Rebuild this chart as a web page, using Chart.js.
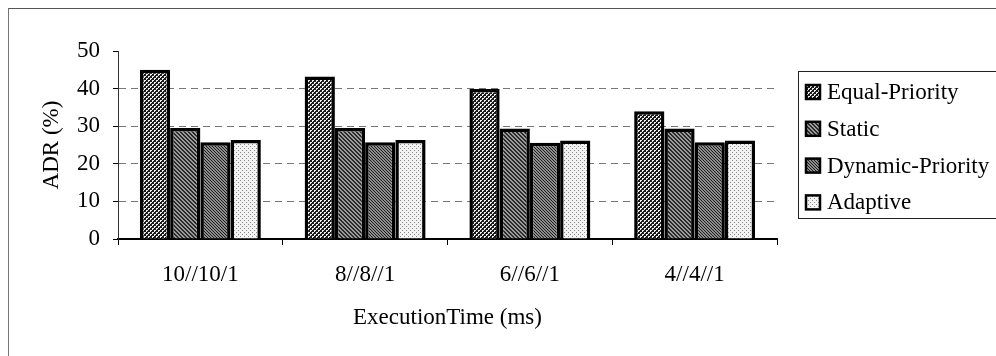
<!DOCTYPE html>
<html>
<head>
<meta charset="utf-8">
<script src="https://cdn.jsdelivr.net/npm/chart.js@4"></script>
<style>
  body { margin: 0; background: #fff; }
  #wrap { position: relative; width: 996px; height: 356px; }
  #frame { position: absolute; left: 8px; top: 8px; right: 0; bottom: 0; border-left: 1px solid #777; border-top: 1px solid #555; pointer-events: none; }
</style>
</head>
<body>
<div id="wrap">
  <canvas id="chart" width="996" height="356"></canvas>
  <div id="frame"></div>
</div>
<script>
const categories = ["10//10/1", "8//8//1", "6//6//1", "4//4//1"];
const seriesNames = ["Equal-Priority", "Static", "Dynamic-Priority", "Adaptive"];
const equalPriority = [45, 43.2, 39.9, 34];
const staticVals = [29.5, 29.5, 29.4, 29.4];
const dynamicPriority = [25.7, 25.7, 25.6, 25.7];
const adaptive = [26.3, 26.3, 26.2, 26.2];
const yTicks = [0, 10, 20, 30, 40, 50];

const serif = "'Liberation Serif', 'DejaVu Serif', serif";

// petits motifs façon hachures Excel
function makePattern(size, bg, fg, pixels) {
  const c = document.createElement("canvas");
  c.width = size;
  c.height = size;
  const g = c.getContext("2d");
  g.fillStyle = bg;
  g.fillRect(0, 0, size, size);
  g.fillStyle = fg;
  pixels.forEach(([x, y]) => g.fillRect(x, y, 1, 1));
  return g.createPattern(c, "repeat");
}

const ctx = document.getElementById("chart").getContext("2d");

const patterns = [
  makePattern(4, "#1a1a1a", "#f0f0f0", [[0, 0], [1, 0], [0, 1], [2, 2], [3, 2], [2, 3]]),
  makePattern(4, "#9a9a9a", "#2a2a2a", [[0, 0], [1, 1], [2, 2], [3, 3], [1, 0], [2, 1], [3, 2], [0, 3]]),
  makePattern(3, "#8c8c8c", "#1e1e1e", [[0, 0], [1, 1], [2, 2]]),
  makePattern(4, "#f2f2f2", "#8a8a8a", [[0, 0], [2, 2]]),
];

const seriesData = [equalPriority, staticVals, dynamicPriority, adaptive];

// Légende encadrée dessinée à la main (à droite du graphique)
const boxedLegend = {
  id: "boxedLegend",
  afterDraw(chart) {
    const c = chart.ctx;
    const left = chart.chartArea.right + 21;
    const top = 71;
    const rowH = 36.8;
    c.save();
    c.strokeStyle = "#222";
    c.lineWidth = 1;
    c.strokeRect(left + 0.5, top + 0.5, 220, 147);
    c.font = `23px ${serif}`;
    c.textBaseline = "middle";
    chart.data.datasets.forEach((ds, i) => {
      const cy = top + 21 + i * rowH;
      c.fillStyle = ds.backgroundColor;
      c.fillRect(left + 8, cy - 7, 14, 14);
      c.strokeStyle = "#000";
      c.lineWidth = 2.5;
      c.strokeRect(left + 8, cy - 7, 14, 14);
      c.fillStyle = "#000";
      c.fillText(ds.label, left + 29, cy + 1);
    });
    c.restore();
  },
};

new Chart(ctx, {
  type: "bar",
  data: {
    labels: categories,
    datasets: seriesNames.map((name, i) => ({
      label: name,
      data: seriesData[i],
      backgroundColor: patterns[i],
      borderColor: "#000",
      borderWidth: 3.5,
      categoryPercentage: 0.734,
      barPercentage: 1,
    })),
  },
  options: {
    responsive: false,
    animation: false,
    layout: { padding: { left: 8, top: 51, right: 219, bottom: 0 } },
    plugins: {
      legend: { display: false },
      tooltip: { enabled: false },
    },
    scales: {
      x: {
        afterFit: (scale) => { scale.height = 117; },
        grid: {
          drawOnChartArea: false,
          drawTicks: true,
          tickLength: 6,
          tickColor: "#000",
          tickWidth: 1,
        },
        border: { color: "#000", width: 2 },
        ticks: {
          color: "#000",
          padding: 16,
          font: { family: serif, size: 23 },
        },
        title: {
          display: true,
          text: "ExecutionTime (ms)",
          color: "#000",
          font: { family: serif, size: 23 },
          padding: { top: 0, bottom: 24 },
        },
      },
      y: {
        min: 0,
        max: 50,
        afterFit: (scale) => { scale.width = 110; },
        afterBuildTicks: (scale) => { scale.ticks = yTicks.map((v) => ({ value: v })); },
        grid: {
          color: (c) => (c.tick && (c.tick.value === 0 || c.tick.value === 50) ? "transparent" : "#777"),
          tickColor: "#000",
          tickLength: 5,
          lineWidth: 1,
        },
        border: { color: "#333", width: 1, dash: [7, 5] },
        ticks: {
          color: "#000",
          padding: 13,
          font: { family: serif, size: 23 },
        },
        title: {
          display: true,
          text: "ADR (%)",
          color: "#000",
          font: { family: serif, size: 23 },
          padding: { top: 30, bottom: 0 },
        },
      },
    },
  },
  plugins: [boxedLegend],
});
</script>
</body>
</html>
